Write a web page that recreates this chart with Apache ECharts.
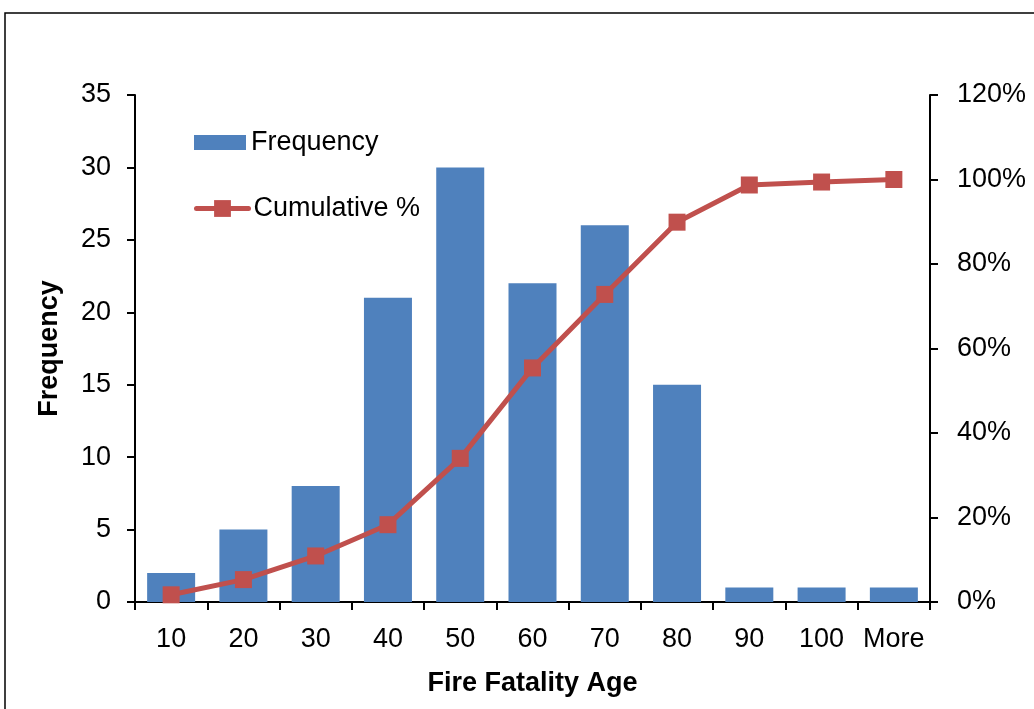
<!DOCTYPE html>
<html>
<head>
<meta charset="utf-8">
<script src="https://cdn.jsdelivr.net/npm/echarts@6/dist/echarts.min.js"></script>
<style>
  html, body { margin: 0; padding: 0; background: #fff; }
  #chart { width: 1034px; height: 709px; }
</style>
</head>
<body>
<div id="chart"></div>
<script>
// Age bins of fire fatalities
const categories = ['10', '20', '30', '40', '50', '60', '70', '80', '90', '100', 'More'];
// Count of fatalities per bin
const frequency = [2, 5, 8, 21, 30, 22, 26, 15, 1, 1, 1];
// Running cumulative share, in percent
const cumulativePct = [1.7, 5.3, 10.9, 18.3, 34.0, 55.4, 72.8, 89.9, 98.7, 99.4, 100];

const FONT = '"Liberation Sans", Arial, sans-serif';
const BLUE = '#4F81BD';
const RED = '#C0504D';

const chart = echarts.init(document.getElementById('chart'), null, { renderer: 'canvas' });

const axisLine = { show: true, lineStyle: { color: '#000', width: 2 } };
const axisTick = { show: true, inside: false, length: 8, lineStyle: { color: '#000', width: 2 } };
const labelStyle = { color: '#000', fontFamily: FONT, fontSize: 27 };
const titleStyle = { color: '#000', fontFamily: FONT, fontSize: 27, fontWeight: 'bold' };
const legendText = { color: '#000', fontFamily: FONT, fontSize: 27 };

chart.setOption({
  backgroundColor: '#fff',
  animation: false,
  graphic: [{
    type: 'rect',
    shape: { x: 5, y: 13, width: 1100, height: 800 },
    style: { fill: 'none', stroke: '#000', lineWidth: 1.5 },
    silent: true,
    z: -1
  }],
  grid: { left: 135, right: 104, top: 95, bottom: 107, containLabel: false },
  legend: [{
    left: 189,
    top: 124,
    itemWidth: 52,
    itemHeight: 15,
    textStyle: legendText,
    data: [{ name: 'Frequency', icon: 'rect' }]
  }, {
    left: 189,
    top: 190,
    itemWidth: 52,
    itemHeight: 21,
    textStyle: legendText,
    lineStyle: { width: 5, cap: 'round' },
    data: [{ name: 'Cumulative %' }]
  }],
  xAxis: {
    type: 'category',
    data: categories,
    boundaryGap: true,
    name: 'Fire Fatality Age',
    nameLocation: 'middle',
    nameGap: 68,
    nameTextStyle: titleStyle,
    axisLine: axisLine,
    axisTick: Object.assign({}, axisTick, { interval: 0 }),
    axisLabel: Object.assign({}, labelStyle, { margin: 24, interval: 0 }),
    splitLine: { show: false }
  },
  yAxis: [{
    type: 'value',
    min: 0, max: 35, interval: 5,
    name: 'Frequency',
    nameLocation: 'middle',
    nameRotate: 90,
    nameGap: 72,
    nameTextStyle: titleStyle,
    axisLine: axisLine,
    axisTick: axisTick,
    axisLabel: Object.assign({}, labelStyle, { margin: 24 }),
    splitLine: { show: false }
  }, {
    type: 'value',
    position: 'right',
    min: 0, max: 120, interval: 20,
    axisLine: axisLine,
    axisTick: axisTick,
    axisLabel: Object.assign({}, labelStyle, { margin: 27, formatter: '{value}%' }),
    splitLine: { show: false }
  }],
  series: [{
    name: 'Frequency',
    type: 'bar',
    data: frequency,
    barWidth: 48,
    itemStyle: { color: BLUE },
    yAxisIndex: 0
  }, {
    name: 'Cumulative %',
    type: 'line',
    data: cumulativePct,
    yAxisIndex: 1,
    symbol: 'rect',
    symbolSize: 17,
    lineStyle: { color: RED, width: 5 },
    itemStyle: { color: RED },
    z: 3
  }]
});
</script>
</body>
</html>
